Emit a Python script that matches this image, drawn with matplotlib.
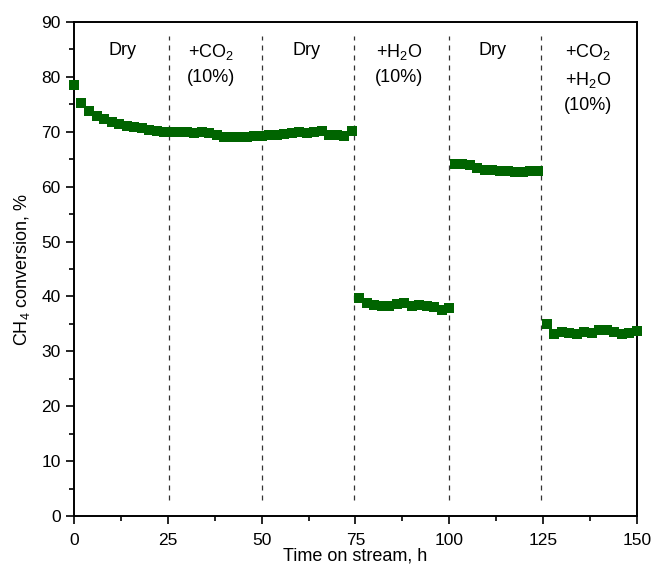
import matplotlib
matplotlib.use("Agg")
import matplotlib.pyplot as plt
from matplotlib.ticker import MultipleLocator

plt.rcParams['font.family'] = ['Liberation Sans', 'DejaVu Sans']
plt.rcParams['mathtext.fontset'] = 'custom'
plt.rcParams['mathtext.rm'] = 'Liberation Sans'
plt.rcParams['mathtext.it'] = 'Liberation Sans'

# -----------------------------------------------------------------------------
# Data
# -----------------------------------------------------------------------------

time_h = [0, 2, 4, 6, 8, 10, 12, 14, 16, 18, 20, 22, 24,
          26, 28, 30, 32, 34, 36, 38, 40, 42, 44, 46, 48,
          50, 52, 54, 56, 58, 60, 62, 64, 66, 68, 70, 72, 74,
          76, 78, 80, 82, 84, 86, 88, 90, 92, 94, 96, 98, 100,
          101.5, 103.5, 105.5, 107.5, 109.5, 111.5, 113.5, 115.5, 117.5, 119.5, 121.5, 123.5,
          126, 128, 130, 132, 134, 136, 138, 140, 142, 144, 146, 148, 150]
conversion = [78.5, 75.2, 73.8, 72.9, 72.3, 71.8, 71.4, 71.1, 70.9, 70.7, 70.4, 70.2, 70.0,
              70.0, 69.9, 70.0, 69.8, 70.0, 69.7, 69.4, 69.1, 69.0, 69.1, 69.0, 69.3,
              69.2, 69.4, 69.5, 69.6, 69.7, 69.9, 69.8, 70.0, 70.1, 69.4, 69.5, 69.3, 70.2,
              39.8, 38.8, 38.5, 38.2, 38.3, 38.6, 38.8, 38.2, 38.5, 38.2, 38.0, 37.5, 37.9,
              64.2, 64.1, 64.0, 63.4, 63.0, 63.0, 62.9, 62.8, 62.6, 62.7, 62.9, 62.8,
              34.9, 33.2, 33.6, 33.4, 33.2, 33.5, 33.3, 33.9, 33.8, 33.5, 33.2, 33.3, 33.7]

switch_times = [25.3, 50.0, 74.6, 99.8, 124.3]

stage_labels = ["Dry", "+CO$_2$\n(10%)", "Dry", "+H$_2$O\n(10%)", "Dry", "+CO$_2$\n+H$_2$O\n(10%)"]
label_x = [12.9, 36.5, 61.9, 86.6, 111.6, 137.0]

# -----------------------------------------------------------------------------
# Plot
# -----------------------------------------------------------------------------

fig = plt.figure(figsize = (6.53, 5.68), dpi = 100)
ax = fig.add_axes([0.1133, 0.0915, 0.8622, 0.8698])

for t in switch_times:
    ax.plot([t, t], [3, 87.5], color = "#333333", linestyle = (0, (4, 4)), linewidth = 0.9)

ax.plot(time_h, conversion, linestyle = "none", marker = "s", markersize = 7.5,
        color = "#006400", markeredgewidth = 0, zorder = 3, clip_on = False)

for x, lab in zip(label_x, stage_labels):
    ax.text(x, 86.4, lab, ha = "center", va = "top", fontsize = 13, linespacing = 1.55)

ax.set_xlim(0, 150)
ax.set_ylim(0, 90)
ax.xaxis.set_major_locator(MultipleLocator(25))
ax.xaxis.set_minor_locator(MultipleLocator(12.5))
ax.yaxis.set_major_locator(MultipleLocator(10))
ax.yaxis.set_minor_locator(MultipleLocator(5))
ax.tick_params(which = "both", direction = "out", width = 1.2, labelsize = 12.5)
ax.tick_params(which = "major", length = 6)
ax.tick_params(which = "minor", length = 3.5)
ax.tick_params(axis = "x", which = "major", pad = 6)
for s in ax.spines.values():
    s.set_linewidth(1.4)

ax.set_xlabel("Time on stream, h", fontsize = 13, labelpad = 0)
ax.set_ylabel("CH$_4$ conversion, %", fontsize = 13, labelpad = 7)

fig.savefig("out.png", dpi = 100)
